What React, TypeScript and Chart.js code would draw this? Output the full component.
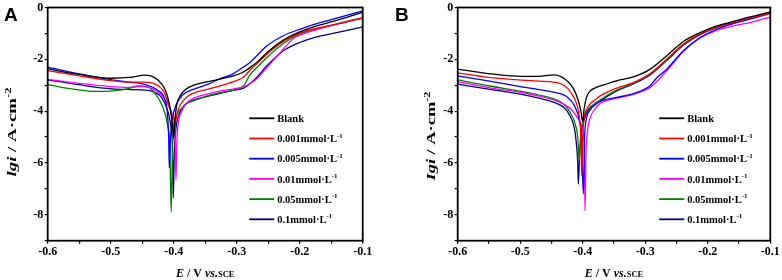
import React, { useEffect, useRef } from 'react';
import { Chart, registerables } from 'chart.js';

Chart.register(...registerables);

// ---------- Data (E / V vs. SCE, lgi) ----------
const SERIES_LABELS = ['Blank', '0.001mmol·L⁻¹', '0.005mmol·L⁻¹', '0.01mmol·L⁻¹', '0.05mmol·L⁻¹', '0.1mmol·L⁻¹'];
const SERIES_COLORS = ['#000000', '#ff0000', '#0000ff', '#ff00ff', '#008000', '#000080'];
const X_TICK_LABELS = ['-0.6', '-0.5', '-0.4', '-0.3', '-0.2', '-0.1'];
const Y_TICK_LABELS = ['0', '-2', '-4', '-6', '-8'];

// Panel A
const aBlank: number[][] = [[-0.6,-2.37],[-0.55,-2.58],[-0.5,-2.73],[-0.47,-2.7],[-0.445,-2.61],[-0.425,-2.8],[-0.414,-3.15],[-0.407,-3.7],[-0.403,-4.3],[-0.4,-5.05],[-0.398,-4.3],[-0.395,-3.75],[-0.39,-3.42],[-0.382,-3.18],[-0.366,-2.98],[-0.345,-2.86],[-0.326,-2.76],[-0.305,-2.64],[-0.29,-2.5],[-0.279,-2.32],[-0.265,-2.05],[-0.252,-1.74],[-0.226,-1.26],[-0.2,-0.94],[-0.173,-0.71],[-0.147,-0.54],[-0.1,-0.19]];
const aC0001: number[][] = [[-0.6,-2.44],[-0.55,-2.64],[-0.5,-2.82],[-0.47,-2.88],[-0.446,-2.88],[-0.43,-2.95],[-0.417,-3.2],[-0.41,-3.6],[-0.405,-4.0],[-0.401,-4.45],[-0.399,-4.75],[-0.397,-4.4],[-0.393,-3.95],[-0.385,-3.6],[-0.375,-3.38],[-0.366,-3.28],[-0.35,-3.18],[-0.33,-3.05],[-0.305,-2.86],[-0.289,-2.68],[-0.279,-2.42],[-0.265,-2.1],[-0.252,-1.8],[-0.226,-1.31],[-0.2,-0.99],[-0.173,-0.8],[-0.147,-0.67],[-0.1,-0.41]];
const aC0005: number[][] = [[-0.6,-2.3],[-0.55,-2.56],[-0.5,-2.78],[-0.472,-2.88],[-0.446,-2.97],[-0.425,-3.2],[-0.414,-3.55],[-0.41,-4.1],[-0.408,-5.0],[-0.407,-6.2],[-0.405,-5.0],[-0.402,-4.3],[-0.397,-3.8],[-0.39,-3.5],[-0.382,-3.3],[-0.366,-3.13],[-0.345,-2.96],[-0.326,-2.74],[-0.305,-2.55],[-0.2945,-2.38],[-0.279,-2.12],[-0.268,-1.86],[-0.252,-1.48],[-0.226,-1.09],[-0.2,-0.84],[-0.173,-0.62],[-0.147,-0.45],[-0.1,-0.13]];
const aC001: number[][] = [[-0.6,-2.77],[-0.55,-2.93],[-0.5,-3.05],[-0.472,-3.08],[-0.446,-3.05],[-0.43,-3.18],[-0.414,-3.55],[-0.405,-3.95],[-0.4,-4.3],[-0.398,-4.8],[-0.3964,-6.66],[-0.395,-5.2],[-0.393,-4.5],[-0.388,-4.05],[-0.38,-3.7],[-0.366,-3.48],[-0.345,-3.33],[-0.325,-3.22],[-0.305,-3.14],[-0.289,-3.06],[-0.28,-2.95],[-0.269,-2.77],[-0.252,-2.32],[-0.226,-1.61],[-0.211,-1.22],[-0.2,-1.07],[-0.173,-0.85],[-0.147,-0.68],[-0.1,-0.41]];
const aC005: number[][] = [[-0.6,-2.98],[-0.551,-3.18],[-0.525,-3.24],[-0.498,-3.22],[-0.472,-3.13],[-0.456,-3.03],[-0.44,-3.08],[-0.43,-3.3],[-0.418,-3.8],[-0.41,-4.5],[-0.406,-5.5],[-0.404,-7.9],[-0.402,-5.5],[-0.399,-4.6],[-0.395,-4.15],[-0.388,-3.9],[-0.38,-3.72],[-0.366,-3.58],[-0.345,-3.4],[-0.325,-3.28],[-0.305,-3.19],[-0.289,-3.02],[-0.279,-2.6],[-0.265,-2.25],[-0.252,-1.93],[-0.226,-1.39],[-0.2,-1.03],[-0.173,-0.84],[-0.147,-0.67],[-0.1,-0.39]];
const aC01: number[][] = [[-0.6,-2.79],[-0.551,-2.98],[-0.498,-3.14],[-0.446,-3.19],[-0.433,-3.25],[-0.42,-3.45],[-0.41,-3.95],[-0.405,-4.5],[-0.402,-5.4],[-0.4006,-7.34],[-0.399,-5.6],[-0.396,-4.6],[-0.391,-4.1],[-0.382,-3.75],[-0.366,-3.55],[-0.345,-3.42],[-0.325,-3.3],[-0.305,-3.2],[-0.289,-3.11],[-0.269,-2.72],[-0.252,-2.25],[-0.226,-1.67],[-0.2,-1.35],[-0.173,-1.13],[-0.147,-1.0],[-0.1,-0.75]];

// Panel B
const bBlank: number[][] = [[-0.6,-2.38],[-0.551,-2.55],[-0.498,-2.66],[-0.471,-2.66],[-0.447,-2.6],[-0.428,-2.77],[-0.415,-3.12],[-0.407,-3.6],[-0.403,-4.0],[-0.4,-4.4],[-0.398,-3.95],[-0.394,-3.47],[-0.388,-3.22],[-0.38,-3.1],[-0.364,-2.97],[-0.345,-2.82],[-0.319,-2.68],[-0.292,-2.38],[-0.2656,-1.86],[-0.239,-1.31],[-0.2123,-0.97],[-0.1856,-0.71],[-0.159,-0.54],[-0.1323,-0.36],[-0.1,-0.17]];
const bC0001: number[][] = [[-0.6,-2.52],[-0.551,-2.7],[-0.498,-2.8],[-0.471,-2.84],[-0.447,-2.88],[-0.43,-3.0],[-0.419,-3.28],[-0.41,-3.7],[-0.405,-4.3],[-0.403,-5.0],[-0.4016,-6.5],[-0.4,-5.0],[-0.398,-4.3],[-0.394,-3.95],[-0.388,-3.72],[-0.38,-3.56],[-0.372,-3.41],[-0.3456,-3.11],[-0.319,-2.9],[-0.292,-2.55],[-0.2656,-1.99],[-0.239,-1.41],[-0.2123,-1.03],[-0.1856,-0.77],[-0.159,-0.58],[-0.1323,-0.41],[-0.1,-0.23]];
const bC0005: number[][] = [[-0.6,-2.64],[-0.551,-2.83],[-0.498,-3.06],[-0.47,-3.17],[-0.445,-3.28],[-0.424,-3.47],[-0.413,-3.8],[-0.406,-4.3],[-0.402,-5.0],[-0.399,-7.2],[-0.397,-5.0],[-0.394,-4.3],[-0.388,-3.95],[-0.38,-3.75],[-0.372,-3.62],[-0.3456,-3.47],[-0.319,-3.32],[-0.2923,-3.02],[-0.2816,-2.71],[-0.2656,-2.38],[-0.239,-1.67],[-0.2123,-1.16],[-0.1856,-0.84],[-0.159,-0.62],[-0.1323,-0.45],[-0.1,-0.23]];
const bC001: number[][] = [[-0.6,-2.86],[-0.551,-3.09],[-0.498,-3.28],[-0.47,-3.42],[-0.445,-3.58],[-0.43,-3.73],[-0.419,-3.92],[-0.41,-4.2],[-0.403,-4.5],[-0.399,-4.9],[-0.3975,-5.6],[-0.3963,-7.85],[-0.395,-5.8],[-0.393,-4.9],[-0.388,-4.25],[-0.38,-3.9],[-0.372,-3.7],[-0.3456,-3.5],[-0.319,-3.35],[-0.2923,-3.09],[-0.2656,-2.44],[-0.239,-1.7],[-0.2123,-1.18],[-0.1856,-0.88],[-0.159,-0.71],[-0.1323,-0.58],[-0.1,-0.37]];
const bC005: number[][] = [[-0.6,-2.79],[-0.551,-3.02],[-0.498,-3.24],[-0.47,-3.38],[-0.445,-3.54],[-0.43,-3.73],[-0.42,-4.05],[-0.412,-4.5],[-0.408,-5.0],[-0.4055,-5.9],[-0.403,-4.9],[-0.4,-4.4],[-0.396,-4.1],[-0.388,-3.85],[-0.38,-3.7],[-0.372,-3.56],[-0.3456,-3.19],[-0.319,-2.93],[-0.2923,-2.57],[-0.2656,-2.03],[-0.239,-1.44],[-0.2123,-1.03],[-0.1856,-0.77],[-0.159,-0.58],[-0.1323,-0.41],[-0.1,-0.21]];
const bC01: number[][] = [[-0.6,-2.96],[-0.551,-3.15],[-0.498,-3.35],[-0.47,-3.5],[-0.445,-3.67],[-0.43,-3.86],[-0.42,-4.2],[-0.413,-4.7],[-0.41,-5.3],[-0.408,-6.0],[-0.407,-6.82],[-0.405,-5.6],[-0.402,-4.8],[-0.398,-4.35],[-0.392,-4.0],[-0.382,-3.75],[-0.372,-3.6],[-0.3456,-3.22],[-0.319,-2.95],[-0.2923,-2.6],[-0.2656,-2.05],[-0.239,-1.46],[-0.2123,-1.05],[-0.1856,-0.78],[-0.159,-0.58],[-0.1323,-0.4],[-0.1,-0.18]];

const SERIF = '"Liberation Serif", "Times New Roman", serif';
const SANS = '"Liberation Sans", Arial, sans-serif';

type Run = { text: string; font: string; dy?: number };

function measureRuns(ctx: CanvasRenderingContext2D, runs: Run[]) {
  let w = 0;
  for (const r of runs) { ctx.font = r.font; w += ctx.measureText(r.text).width; }
  return w;
}
function drawRuns(ctx: CanvasRenderingContext2D, runs: Run[], x: number, y: number) {
  let cx = x;
  for (const r of runs) {
    ctx.font = r.font;
    ctx.fillText(r.text, cx, y + (r.dy || 0));
    cx += ctx.measureText(r.text).width;
  }
}

type PanelCfg = {
  letter: string;
  lgiText: string;
  yAxisWidth: number;
  padRight: number;
  yTitleX: number;
  yTitleY: number;
  series: number[][][];
};

const PANELS: PanelCfg[] = [
  { letter: 'A', lgiText: 'lgi', yAxisWidth: 47.7, padRight: 28.3, yTitleX: 12, yTitleY: 132, series: [aBlank, aC0001, aC0005, aC001, aC005, aC01] },
  { letter: 'B', lgiText: 'Igi', yAxisWidth: 66.7, padRight: 11.7, yTitleX: 40, yTitleY: 136, series: [bBlank, bC0001, bC0005, bC001, bC005, bC01] },
];

function makeDecor(p: PanelCfg) {
  return {
    id: 'decor' + p.letter,
    afterDraw(chart: any) {
      const ctx: CanvasRenderingContext2D = chart.ctx;
      const ca = chart.chartArea;
      ctx.save();
      // frame
      ctx.strokeStyle = '#000';
      ctx.lineWidth = 1.8;
      ctx.strokeRect(ca.left, ca.top, ca.right - ca.left, ca.bottom - ca.top);
      ctx.fillStyle = '#000';
      ctx.textAlign = 'left';
      ctx.textBaseline = 'alphabetic';
      // panel letter
      ctx.font = `bold 19px ${SANS}`;
      ctx.fillText(p.letter, 4, 20.5);
      // legend
      for (let i = 0; i < SERIES_LABELS.length; i++) {
        const rowY = 118.3 + i * 20.2;
        const x0 = ca.left + 201.5;
        ctx.strokeStyle = SERIES_COLORS[i];
        ctx.lineWidth = 1.8;
        ctx.beginPath();
        ctx.moveTo(x0, rowY);
        ctx.lineTo(x0 + 25, rowY);
        ctx.stroke();
        const label = SERIES_LABELS[i];
        const runs: Run[] = [];
        if (label.endsWith('⁻¹')) {
          runs.push({ text: label.slice(0, -2), font: `bold 10.5px ${SERIF}` });
          runs.push({ text: '-1', font: `bold 7px ${SERIF}`, dy: -4.5 });
        } else {
          runs.push({ text: label, font: `bold 10.5px ${SERIF}` });
        }
        drawRuns(ctx, runs, x0 + 28, rowY + 3.6);
      }
      // x title
      const xRuns: Run[] = [
        { text: 'E', font: `italic bold 12px ${SERIF}` },
        { text: ' / V ', font: `bold 12px ${SERIF}` },
        { text: 'vs.', font: `italic bold 12px ${SERIF}` },
        { text: 'SCE', font: `bold 8.5px ${SERIF}` },
      ];
      const xw = measureRuns(ctx, xRuns);
      drawRuns(ctx, xRuns, (ca.left + ca.right) / 2 - xw / 2, 277);
      // y title (rotated, stretched along its baseline)
      const yRuns: Run[] = [
        { text: p.lgiText, font: `italic bold 12px ${SERIF}` },
        { text: ' / A·cm', font: `bold 12px ${SERIF}` },
        { text: '-2', font: `bold 8px ${SERIF}`, dy: -5 },
      ];
      const yw = measureRuns(ctx, yRuns);
      const target = 89;
      ctx.translate(p.yTitleX, p.yTitleY);
      ctx.rotate(-Math.PI / 2);
      ctx.scale(target / yw, 1);
      drawRuns(ctx, yRuns, -yw / 2, 4.3);
      ctx.restore();
    },
  };
}

function Panel({ cfg, left }: { cfg: PanelCfg; left: number }) {
  const ref = useRef<HTMLCanvasElement | null>(null);
  useEffect(() => {
    if (!ref.current) return;
    const chart = new Chart(ref.current, {
      type: 'line',
      data: {
        datasets: cfg.series.map((pts, i) => ({
          label: SERIES_LABELS[i],
          data: pts.map(([x, y]) => ({ x, y })),
          borderColor: SERIES_COLORS[i],
          backgroundColor: SERIES_COLORS[i],
          borderWidth: 1.3,
          pointRadius: 0,
          fill: false,
          cubicInterpolationMode: 'monotone' as const,
        })),
      },
      options: {
        animation: false,
        responsive: false,
        events: [],
        layout: { padding: { left: 0, top: 6.7, right: cfg.padRight, bottom: 0 } },
        plugins: { legend: { display: false }, tooltip: { enabled: false }, title: { display: false } },
        scales: {
          x: {
            type: 'linear',
            min: -0.6,
            max: -0.1,
            afterFit: (s: any) => { s.height = 39.3; },
            border: { display: false },
            grid: { display: true, drawOnChartArea: false, drawTicks: true, tickLength: 3, color: '#000', lineWidth: 1.2 },
            ticks: {
              stepSize: 0.05,
              autoSkip: false,
              maxRotation: 0,
              padding: 1,
              color: '#000',
              font: { family: SERIF, size: 12, weight: 'bold' },
              callback: (v: any) => {
                const lab = X_TICK_LABELS.find((t) => Math.abs(Number(t) - Number(v)) < 1e-6);
                return lab ?? '';
              },
            },
          },
          y: {
            type: 'linear',
            min: -9,
            max: 0,
            afterFit: (s: any) => { s.width = cfg.yAxisWidth; },
            border: { display: false },
            grid: { display: true, drawOnChartArea: false, drawTicks: true, tickLength: 3, color: '#000', lineWidth: 1.2 },
            ticks: {
              stepSize: 1,
              autoSkip: false,
              padding: 1.5,
              color: '#000',
              font: { family: SERIF, size: 12, weight: 'bold', lineHeight: 1 },
              callback: (v: any) => {
                const lab = Y_TICK_LABELS.find((t) => Math.abs(Number(t) - Number(v)) < 1e-6);
                return lab ?? '';
              },
            },
          },
        },
      } as any,
      plugins: [makeDecor(cfg)],
    });
    return () => chart.destroy();
  }, [cfg]);
  return (
    <div style={{ position: 'absolute', left, top: 0, width: 391, height: 280 }}>
      <canvas ref={ref} width={391} height={280} style={{ display: 'block', width: 391, height: 280 }} />
    </div>
  );
}

export default function App() {
  return (
    <div style={{ position: 'absolute', left: 0, top: 0, width: 782, height: 280, background: '#fff', overflow: 'hidden' }}>
      <Panel cfg={PANELS[0]} left={0} />
      <Panel cfg={PANELS[1]} left={391} />
    </div>
  );
}
